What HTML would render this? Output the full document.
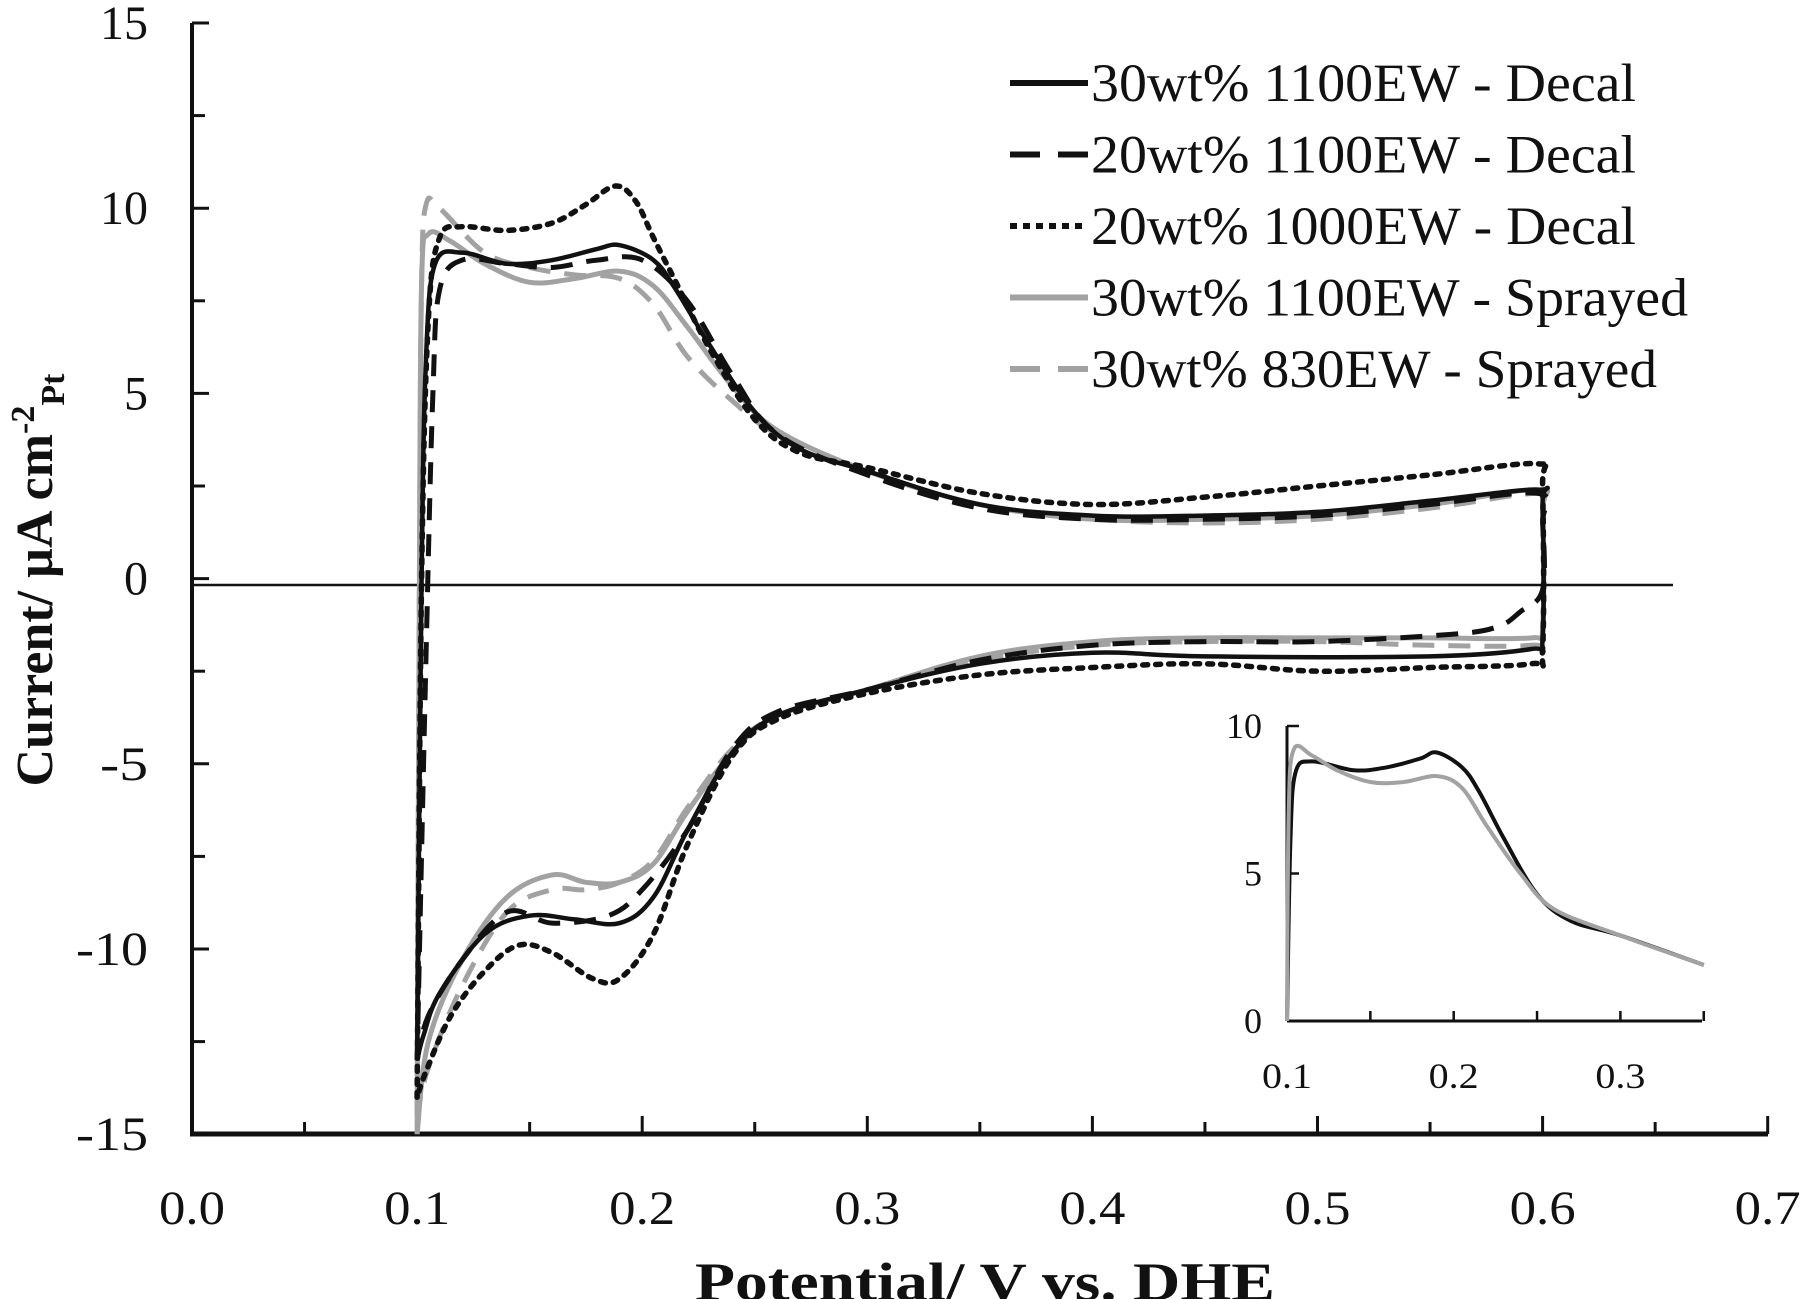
<!DOCTYPE html>
<html><head><meta charset="utf-8"><style>
html,body{margin:0;padding:0;background:#fff;}
svg{display:block;}
text{font-family:"Liberation Serif",serif;fill:#111;}
</style></head><body>
<svg id="s" width="1800" height="1299" viewBox="0 0 1800 1299" xmlns="http://www.w3.org/2000/svg">
<g id="axes" stroke="#111" fill="none"></g>
<g id="curves" fill="none" stroke-linejoin="round"></g>
<g id="labels"></g>
</svg>
<script>
var NS="http://www.w3.org/2000/svg",S=document.getElementById('s');
function el(p,t,a,txt){var e=document.createElementNS(NS,t);for(var k in a)e.setAttribute(k,a[k]);if(txt!==undefined)e.textContent=txt;p.appendChild(e);return e;}
var AX=document.getElementById('axes'),CU=document.getElementById('curves'),LB=document.getElementById('labels');
var X0=192,XS=2251,Y0=578.6,YS=37.04;
function mx(v){return X0+v*XS;} function my(i){return Y0-i*YS;}
el(AX,'line',{x1:192,y1:23,x2:192,y2:1134,'stroke-width':4});
el(AX,'line',{x1:190,y1:1134,x2:1768,y2:1134,'stroke-width':5});
for(var i=-15;i<=15;i+=2.5){var y=my(i);el(AX,'line',{x1:192,y1:y,x2:(i%5==0?209:205),y2:y,'stroke-width':3});}
for(var v=0.05;v<0.71;v+=0.05){var x=mx(v);el(AX,'line',{x1:x,y1:1134,x2:x,y2:(Math.round(v*100)%10==0?1116:1122),'stroke-width':3});}
el(AX,'line',{x1:192,y1:585,x2:1673,y2:585,'stroke-width':2.5});
[15,10,5,0,-5,-10,-15].forEach(function(i){var s=String(i);el(LB,'text',{x:148,y:my(i)+16,'font-size':48,'text-anchor':'end',textLength:(s.length*24),lengthAdjust:'spacingAndGlyphs'},s);});
for(var k=0;k<=7;k++){el(LB,'text',{x:mx(k/10),y:1224,'font-size':48,'text-anchor':'middle',textLength:66,lengthAdjust:'spacingAndGlyphs'},(k/10).toFixed(1));}
el(LB,'text',{x:985,y:1300,'font-size':54,'font-weight':'bold','text-anchor':'middle',textLength:580,lengthAdjust:'spacingAndGlyphs'},'Potential/ V vs. DHE');
var yl=el(LB,'text',{transform:'translate(52,580) rotate(-90)','font-size':52,'font-weight':'bold','text-anchor':'middle'});
yl.innerHTML='Current/ µA cm<tspan dy="-18" font-size="34">-2</tspan><tspan dy="30" font-size="34">Pt</tspan>';
var D={
k:[[0.1,-13],[0.102,0],[0.104,6],[0.108,8.5],[0.12,8.8],[0.14,8.5],[0.16,8.6],[0.18,8.9],[0.19,9.0],[0.205,8.6],[0.215,7.8],[0.23,6.3],[0.25,4.5],[0.27,3.5],[0.3,2.9],[0.35,2.0],[0.4,1.7],[0.45,1.7],[0.5,1.8],[0.55,2.1],[0.598,2.4],[0.6,2.0],[0.6,-1.6],[0.595,-1.9],[0.55,-2.1],[0.45,-2.1],[0.4,-2.0],[0.35,-2.3],[0.3,-3.0],[0.26,-3.7],[0.24,-4.7],[0.22,-6.8],[0.205,-8.6],[0.19,-9.3],[0.17,-9.2],[0.15,-9.1],[0.13,-9.6],[0.11,-11.2],[0.103,-12.3],[0.1,-13]],
d:[[0.1,-13],[0.104,-2],[0.107,5],[0.11,7.8],[0.12,8.6],[0.14,8.5],[0.16,8.4],[0.18,8.6],[0.2,8.6],[0.22,7.5],[0.24,5.5],[0.26,3.9],[0.3,2.8],[0.35,1.9],[0.4,1.6],[0.45,1.6],[0.5,1.7],[0.55,2.0],[0.598,2.3],[0.6,1.5],[0.6,-0.3],[0.59,-0.9],[0.58,-1.3],[0.56,-1.5],[0.5,-1.7],[0.45,-1.7],[0.4,-1.8],[0.35,-2.2],[0.3,-3.0],[0.26,-3.6],[0.24,-4.6],[0.22,-6.8],[0.2,-8.4],[0.185,-9.1],[0.16,-9.3],[0.14,-9.0],[0.12,-10.3],[0.105,-11.8],[0.1,-13]],
o:[[0.1,-14],[0.102,0],[0.105,7],[0.11,9.2],[0.12,9.5],[0.14,9.4],[0.16,9.6],[0.175,10.1],[0.188,10.6],[0.197,10.2],[0.205,9.2],[0.215,8.0],[0.23,6.2],[0.25,4.3],[0.27,3.4],[0.3,3.0],[0.35,2.3],[0.4,2.0],[0.45,2.2],[0.5,2.5],[0.55,2.8],[0.598,3.1],[0.6,2.5],[0.6,-1.9],[0.595,-2.3],[0.55,-2.4],[0.5,-2.5],[0.45,-2.3],[0.4,-2.4],[0.35,-2.6],[0.3,-3.1],[0.26,-3.8],[0.24,-4.8],[0.22,-7.2],[0.205,-9.6],[0.19,-10.8],[0.178,-10.8],[0.16,-10.1],[0.145,-9.9],[0.13,-10.6],[0.115,-11.8],[0.104,-13.3],[0.1,-14]],
g:[[0.1,-15],[0.101,0],[0.102,8],[0.105,9.3],[0.115,9.1],[0.13,8.5],[0.15,8.0],[0.17,8.1],[0.19,8.3],[0.205,7.9],[0.22,6.8],[0.24,5.2],[0.26,4.0],[0.3,2.9],[0.35,2.0],[0.4,1.6],[0.45,1.6],[0.5,1.7],[0.55,2.0],[0.598,2.4],[0.6,1.8],[0.6,-1.3],[0.595,-1.6],[0.55,-1.6],[0.5,-1.6],[0.45,-1.6],[0.4,-1.7],[0.35,-2.1],[0.3,-3.0],[0.26,-3.7],[0.24,-4.7],[0.22,-6.3],[0.205,-7.7],[0.19,-8.2],[0.175,-8.2],[0.16,-8.0],[0.14,-8.6],[0.12,-10.3],[0.105,-12.5],[0.1,-15]],
h:[[0.1,-14.5],[0.101,0],[0.102,8],[0.104,10.1],[0.11,10.0],[0.13,8.8],[0.15,8.4],[0.17,8.2],[0.19,8.1],[0.205,7.4],[0.22,6.0],[0.24,4.8],[0.26,3.9],[0.3,2.9],[0.35,1.9],[0.4,1.6],[0.45,1.5],[0.5,1.6],[0.55,1.9],[0.598,2.3],[0.6,1.8],[0.6,-1.5],[0.595,-1.8],[0.55,-1.8],[0.5,-1.7],[0.45,-1.7],[0.4,-1.8],[0.35,-2.2],[0.3,-3.0],[0.26,-3.7],[0.24,-4.6],[0.22,-6.2],[0.205,-7.6],[0.19,-8.2],[0.175,-8.4],[0.16,-8.4],[0.14,-9.0],[0.12,-11.0],[0.105,-13.2],[0.1,-14.5]]
};
var ST={k:{s:'#111',w:4.5,da:''},d:{s:'#111',w:5,da:'22 14'},o:{s:'#111',w:5.5,da:'5 8'},g:{s:'#a2a2a2',w:5,da:''},h:{s:'#a2a2a2',w:5,da:'22 14'}};
function path(pts,fx,fy){var p=pts.map(function(q){return [fx(q[0]),fy(q[1])];});var d='M'+p[0][0].toFixed(1)+','+p[0][1].toFixed(1);
for(var i=0;i<p.length-1;i++){var p0=p[i-1]||p[i],p1=p[i],p2=p[i+1],p3=p[i+2]||p2;var t=0.17;
d+=' C'+(p1[0]+(p2[0]-p0[0])*t).toFixed(1)+','+(p1[1]+(p2[1]-p0[1])*t).toFixed(1)+' '+(p2[0]-(p3[0]-p1[0])*t).toFixed(1)+','+(p2[1]-(p3[1]-p1[1])*t).toFixed(1)+' '+p2[0].toFixed(1)+','+p2[1].toFixed(1);}return d;}
['g','h','k','d','o'].forEach(function(k){var s=ST[k];var a={d:path(D[k],mx,my),stroke:s.s,'stroke-width':s.w};if(s.da){a['stroke-dasharray']=s.da;}if(k=='o')a['stroke-linecap']='round';el(CU,'path',a);});
var names=[['k','30wt% 1100EW - Decal',545],['d','20wt% 1100EW - Decal',545],['o','20wt% 1000EW - Decal',545],['g','30wt% 1100EW - Sprayed',597],['h','30wt% 830EW - Sprayed',566]];
names.forEach(function(n,i){var y=83+i*71.5;var s=ST[n[0]];var a={x1:1010,y1:y,x2:1088,y2:y,stroke:s.s,'stroke-width':6};if(n[0]=='d'||n[0]=='h')a['stroke-dasharray']='30 18';if(n[0]=='o'){a['stroke-dasharray']='7 6';}
el(CU,'line',a);el(LB,'text',{x:1091,y:y+18,'font-size':54,textLength:n[2],lengthAdjust:'spacingAndGlyphs'},n[1]);});
var IX0=1287,IXS=1667,IY0=1021,IYS=29.5;
function ix(v){return IX0+(v-0.1)*IXS;} function iy(i){return IY0-i*IYS;}
el(AX,'line',{x1:1287,y1:726,x2:1287,y2:1021,'stroke-width':3});
el(AX,'line',{x1:1287,y1:1021,x2:1702,y2:1021,'stroke-width':3});
[0,5,10].forEach(function(i){el(AX,'line',{x1:1287,y1:iy(i),x2:1299,y2:iy(i),'stroke-width':2.5});el(LB,'text',{x:1262,y:iy(i)+12,'font-size':36,'text-anchor':'end'},String(i));});
[0.15,0.2,0.25,0.3,0.35].forEach(function(v){el(AX,'line',{x1:ix(v),y1:1021,x2:ix(v),y2:1011,'stroke-width':2.5});});
[0.1,0.2,0.3].forEach(function(v){el(LB,'text',{x:ix(v),y:1088,'font-size':36,'text-anchor':'middle',textLength:50,lengthAdjust:'spacingAndGlyphs'},v.toFixed(1));});
var ik=[[0.1,0],[0.102,6],[0.105,8.4],[0.115,8.8],[0.14,8.5],[0.16,8.6],[0.18,8.9],[0.19,9.1],[0.205,8.6],[0.215,7.8],[0.23,6.2],[0.25,4.3],[0.27,3.4],[0.3,2.9],[0.35,1.9]];
var ig=[[0.1,0],[0.101,7],[0.104,9.2],[0.115,9.0],[0.13,8.5],[0.15,8.1],[0.17,8.1],[0.19,8.3],[0.205,7.9],[0.22,6.6],[0.24,5.0],[0.26,3.8],[0.3,2.9],[0.35,1.9]];
el(CU,'path',{d:path(ik,ix,iy),stroke:'#111','stroke-width':4});
el(CU,'path',{d:path(ig,ix,iy),stroke:'#a2a2a2','stroke-width':4});
</script>
</body></html>
